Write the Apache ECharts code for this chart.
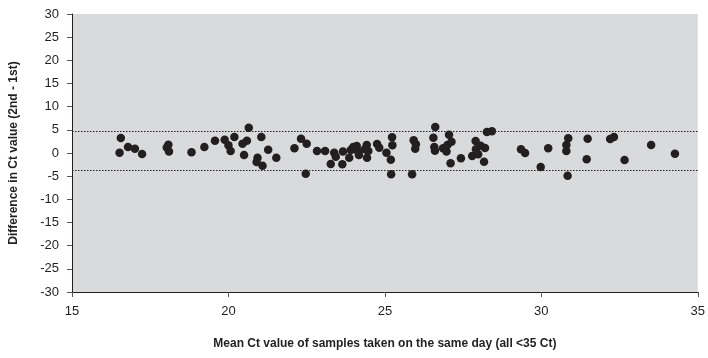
<!DOCTYPE html>
<html>
<head>
<meta charset="utf-8">
<script src="https://cdn.jsdelivr.net/npm/echarts@6/dist/echarts.min.js"></script>
<style>html,body{margin:0;padding:0;background:#fff}#c{width:708px;height:358px}</style>
</head>
<body>
<div id="c"></div>
<script>
const meanCt = [16.56,16.52,16.79,17.01,17.24,18.08,18.03,18.10,18.82,19.23,19.57,19.88,20.0,20.07,20.19,20.65,20.45,20.59,20.5,21.05,20.93,20.9,21.09,21.27,21.53,22.11,22.32,22.5,22.47,22.83,23.09,23.38,23.27,23.43,23.64,23.66,23.86,23.91,23.99,24.1,24.17,24.13,24.42,24.43,24.47,24.36,24.75,24.82,25.05,25.19,25.23,25.24,25.2,25.87,25.92,25.99,25.97,26.61,26.55,26.58,26.6,26.86,27.05,27.0,26.97,27.1,27.13,27.43,27.9,27.91,27.79,27.98,28.06,28.2,28.17,28.26,28.42,29.35,29.48,30.22,29.98,30.86,30.8,30.8,30.84,31.48,31.45,32.2,32.32,32.66,33.51,34.27];
const diffCt = [3.24,0.07,1.3,0.93,-0.2,1.8,1.2,0.3,0.14,1.3,2.66,2.88,1.65,0.43,3.45,5.47,2.0,2.66,-0.43,3.45,-1.0,-1.94,-2.73,0.72,-1.0,1.0,3.1,2.0,-4.46,0.43,0.43,0.07,-2.37,-0.8,-2.45,0.3,-1.0,0.65,1.3,1.5,-0.43,0.43,1.73,-1.0,0.43,0.8,1.94,1.15,0.07,-1.44,3.38,1.65,-4.6,-4.6,2.74,1.87,0.93,5.6,3.3,1.3,0.5,1.0,3.95,1.73,0.3,-2.2,2.44,-1.15,2.59,0.8,-0.65,-0.28,1.58,1.08,-1.87,4.53,4.68,0.8,0.0,1.0,-3.0,3.16,1.73,0.43,-4.9,3.1,-1.37,3.02,3.45,-1.5,1.73,-0.15];
const limits = [4.6, -3.65];
const xTicks = [15, 20, 25, 30, 35];
const yTicks = [-30,-25,-20,-15,-10,-5,0,5,10,15,20,25,30];

const pts = meanCt.map((x, i) => [x, diffCt[i]]);
const chart = echarts.init(document.getElementById('c'), null, {renderer: 'canvas'});
const font = '"Liberation Sans", Arial, sans-serif';
chart.setOption({
  animation: false,
  backgroundColor: '#ffffff',
  grid: {left: 72, right: 10, top: 14, bottom: 66, show: true, backgroundColor: '#d9dadc', borderWidth: 0},
  xAxis: {
    type: 'value', min: xTicks[0], max: xTicks[xTicks.length-1], interval: 5,
    name: 'Mean Ct value of samples taken on the same day (all <35 Ct)',
    nameLocation: 'middle', nameGap: 46,
    nameTextStyle: {fontFamily: font, fontWeight: 'bold', fontSize: 12, color: '#231f20'},
    axisLine: {show: true, onZero: false, lineStyle: {color: '#231f20', width: 1}},
    axisTick: {show: true, length: 5, lineStyle: {color: '#555'}},
    axisLabel: {fontFamily: font, fontSize: 13, color: '#231f20', margin: 13},
    splitLine: {show: false}
  },
  yAxis: {
    type: 'value', min: yTicks[0], max: yTicks[yTicks.length-1], interval: 5,
    name: 'Difference in Ct value (2nd - 1st)',
    nameLocation: 'middle', nameGap: 52, nameRotate: 90,
    nameTextStyle: {fontFamily: font, fontWeight: 'bold', fontSize: 12, color: '#231f20'},
    axisLine: {show: true, onZero: false, lineStyle: {color: '#231f20', width: 1}},
    axisTick: {show: true, length: 5, lineStyle: {color: '#555'}},
    axisLabel: {fontFamily: font, fontSize: 13, color: '#231f20', margin: 13},
    splitLine: {show: false}
  },
  series: [{
    type: 'scatter',
    data: pts,
    symbolSize: 8.5,
    itemStyle: {color: '#231f20', opacity: 1},
    markLine: {
      silent: true, symbol: 'none', label: {show: false},
      lineStyle: {type: [1.5, 1.5], color: '#231f20', width: 1},
      data: limits.map(v => ({yAxis: v}))
    }
  }]
});
</script>
</body>
</html>
